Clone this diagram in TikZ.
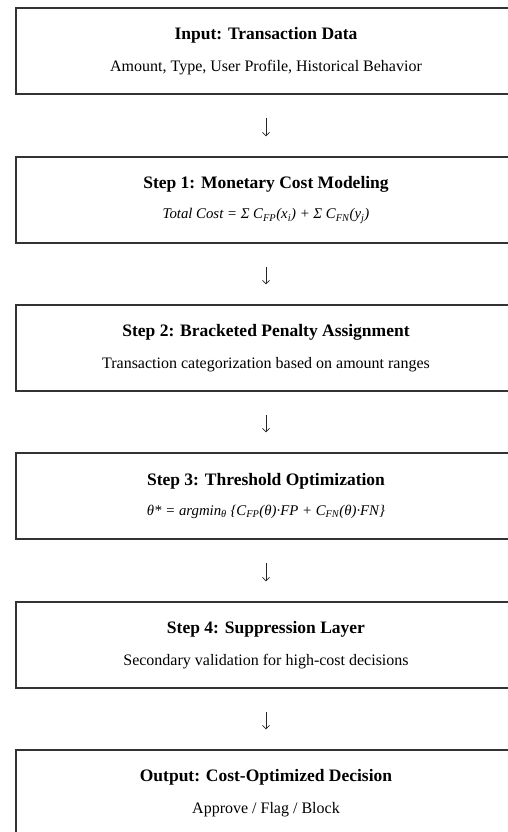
\documentclass[tikz,border=0pt]{standalone}
\usepackage{fontspec}
\setmainfont{Liberation Serif}
\usetikzlibrary{positioning,arrows.meta}

\begin{document}
\begin{tikzpicture}[
    x=1pt, y=1pt,
    stage/.style={rectangle, draw=black!80, line width=1.1pt, align=center,
      minimum height=86pt, minimum width=500pt, inner sep=0pt, fill=white},
    arr/.style={-{Straight Barb[length=3.5pt,width=7pt]}, line width=0.8pt, black!85,
      shorten <=23pt, shorten >=20pt}
  ]
  \useasboundingbox (0,0) rectangle (507,-832);

  \node[stage] (inp)     at (266,-51)  {{\fontsize{17.5}{20}\selectfont\bfseries Input: Transaction Data}\\[16pt]
    {\fontsize{16}{18}\selectfont Amount, Type, User Profile, Historical Behavior}};
  \node[stage] (cost)    at (266,-200) {{\fontsize{17.5}{20}\selectfont\bfseries Step 1: Monetary Cost Modeling}\\[15pt]
    {\fontsize{14.8}{17}\selectfont\itshape Total Cost = Σ C\textsubscript{FP}(x\textsubscript{i}) + Σ C\textsubscript{FN}(y\textsubscript{j})}};
  \node[stage] (penalty) at (266,-348) {{\fontsize{17.5}{20}\selectfont\bfseries Step 2: Bracketed Penalty Assignment}\\[16pt]
    {\fontsize{16}{18}\selectfont Transaction categorization based on amount ranges}};
  \node[stage] (thresh)  at (266,-496) {{\fontsize{17.5}{20}\selectfont\bfseries Step 3: Threshold Optimization}\\[15pt]
    {\fontsize{14.8}{17}\selectfont\itshape θ* = argmin\textsubscript{θ} \{C\textsubscript{FP}(θ)·FP + C\textsubscript{FN}(θ)·FN\}}};
  \node[stage] (supp)    at (266,-645) {{\fontsize{17.5}{20}\selectfont\bfseries Step 4: Suppression Layer}\\[16pt]
    {\fontsize{16}{18}\selectfont Secondary validation for high-cost decisions}};
  \node[stage] (outp)    at (266,-793) {{\fontsize{17.5}{20}\selectfont\bfseries Output: Cost-Optimized Decision}\\[16pt]
    {\fontsize{16}{18}\selectfont Approve / Flag / Block}};

  \draw[arr] (inp) -- (cost);
  \draw[arr] (cost) -- (penalty);
  \draw[arr] (penalty) -- (thresh);
  \draw[arr] (thresh) -- (supp);
  \draw[arr] (supp) -- (outp);
\end{tikzpicture}
\end{document}
